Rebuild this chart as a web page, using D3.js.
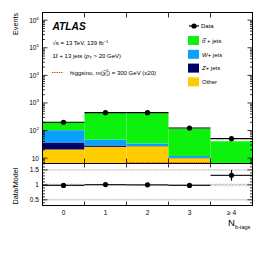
<!DOCTYPE html>
<html>
<head>
<meta charset="utf-8">
<script src="https://cdn.jsdelivr.net/npm/d3@7"></script>
<style>
  body { margin: 0; background: #fff; }
  svg { display: block; font-family: "Liberation Sans", Arial, sans-serif; }
</style>
</head>
<body>
<div id="chart"></div>
<script>
// Chart values

const bins = ["0", "1", "2", "3", "\u2265 4"];
const dataCounts = [200, 445, 445, 124, 51];
const ttbar = [102, 385, 398, 106, 38.5];
const wjets = [66, 18.3, 6.5, 1.8, 0.5];
const zjets = [16.4, 3.1, 0.5, 0.2, 0.05];
const other = [20.6, 25.6, 27, 10, 2];
const signal = [2, 4, 6.8, 6.8, 3];
const ratio = [0.98, 1.01, 1.0, 0.98, 1.32];
const ratioErr = [0.02, 0.02, 0.02, 0.04, 0.18];
const bandErr = [0.05, 0.03, 0.03, 0.03, 0.05];
const yTicks = [10, 1e2, 1e3, 1e4, 1e5, 1e6];
const ratioTicks = [0.5, 1, 1.5];

const legendItems = [
  { key: "ttbar", color: "#0df20d" },
  { key: "wjets", color: "#0aa0ff" },
  { key: "zjets", color: "#000066" },
  { key: "other", color: "#ffcc00" }
];

// Dimensions

const W = 266, H = 253;
const left = 42.5, right = 252.5;
const mainTop = 12.5, mainBottom = 163.5, ratioBottom = 205.5;

const svg = d3.select("#chart").append("svg")
    .attr("width", W)
    .attr("height", H);

const x = d3.scaleBand().domain(bins).range([left, right]).padding(0);
const y = d3.scaleLog().domain([6.4, 1.9e6]).range([mainBottom, mainTop]);
const yr = d3.scaleLinear().domain([0.31, 1.715]).range([ratioBottom, mainBottom]);

// clip for main panel
svg.append("clipPath").attr("id", "clipMain")
  .append("rect").attr("x", left).attr("y", mainTop)
  .attr("width", right - left).attr("height", mainBottom - mainTop);

// Stack the MC
const series = [other, zjets, wjets, ttbar];
const stackColors = ["#ffcc00", "#000066", "#0aa0ff", "#0df20d"];
const stacked = bins.map((b, i) => {
  let acc = 0;
  return series.map((s, k) => {
    const y0 = acc; acc += s[i];
    return { bin: b, y0: y0, y1: acc, color: stackColors[k] };
  });
}).flat();

svg.append("g").attr("clip-path", "url(#clipMain)")
  .selectAll("rect")
  .data(stacked)
  .join("rect")
    .attr("x", d => x(d.bin))
    .attr("width", x.bandwidth())
    .attr("y", d => y(d.y1))
    .attr("height", d => d.y0 > 0 ? y(Math.max(d.y0, 1e-3)) - y(d.y1) : mainBottom + 5 - y(d.y1))
    .attr("fill", d => d.color);

// Signal dotted histogram
const sigPts = [];
bins.forEach((b, i) => {
  sigPts.push([x(b), y(signal[i])]);
  sigPts.push([x(b) + x.bandwidth(), y(signal[i])]);
});
svg.append("path")
  .attr("clip-path", "url(#clipMain)")
  .attr("d", d3.line()(sigPts))
  .attr("fill", "none")
  .attr("stroke", "#ff2200")
  .attr("stroke-width", 1.2)
  .attr("stroke-dasharray", "1.3,1");

// Data points (main)
const dataG = svg.append("g");
bins.forEach((b, i) => {
  const cx = x(b) + x.bandwidth() / 2;
  const v = dataCounts[i], e = Math.sqrt(v);
  dataG.append("line")
    .attr("x1", x(b)).attr("x2", x(b) + x.bandwidth())
    .attr("y1", y(v)).attr("y2", y(v))
    .attr("stroke", "#000").attr("stroke-width", 1.2);
  dataG.append("line")
    .attr("x1", cx).attr("x2", cx)
    .attr("y1", y(v + e)).attr("y2", y(v - e))
    .attr("stroke", "#000").attr("stroke-width", 1.2);
  dataG.append("circle").attr("cx", cx).attr("cy", y(v)).attr("r", 2.6).attr("fill", "#000");
});

// Ratio panel: hatched band, reference lines, points
const defs = svg.append("defs");
const pat = defs.append("pattern").attr("id", "hatch")
  .attr("patternUnits", "userSpaceOnUse").attr("width", 2.5).attr("height", 2.5)
  .attr("patternTransform", "rotate(45)");
pat.append("line").attr("x1", 0).attr("y1", 0).attr("x2", 0).attr("y2", 2.5)
  .attr("stroke", "#aaa").attr("stroke-width", 1);

svg.append("g").selectAll("rect")
  .data(bins)
  .join("rect")
    .attr("x", d => x(d))
    .attr("width", x.bandwidth())
    .attr("y", (d, i) => yr(1 + bandErr[i]))
    .attr("height", (d, i) => yr(1 - bandErr[i]) - yr(1 + bandErr[i]))
    .attr("fill", "url(#hatch)");

svg.append("g").selectAll("line")
  .data(ratioTicks)
  .join("line")
    .attr("x1", left).attr("x2", right)
    .attr("y1", d => yr(d)).attr("y2", d => yr(d))
    .attr("stroke", "#aaa").attr("stroke-width", 1)
    .attr("stroke-dasharray", "2,1");

const ratioG = svg.append("g");
bins.forEach((b, i) => {
  const cx = x(b) + x.bandwidth() / 2;
  const v = ratio[i];
  ratioG.append("line")
    .attr("x1", x(b)).attr("x2", x(b) + x.bandwidth())
    .attr("y1", yr(v)).attr("y2", yr(v))
    .attr("stroke", "#222").attr("stroke-width", 1.2);
  ratioG.append("line")
    .attr("x1", cx).attr("x2", cx)
    .attr("y1", yr(v + ratioErr[i])).attr("y2", yr(v - ratioErr[i]))
    .attr("stroke", "#000").attr("stroke-width", 1.2);
  ratioG.append("circle").attr("cx", cx).attr("cy", yr(v)).attr("r", 2.6).attr("fill", "#000");
});

// Frames
svg.append("rect").attr("x", left).attr("y", mainTop)
  .attr("width", right - left).attr("height", mainBottom - mainTop)
  .attr("fill", "none").attr("stroke", "#000").attr("stroke-width", 1);
svg.append("rect").attr("x", left).attr("y", mainBottom)
  .attr("width", right - left).attr("height", ratioBottom - mainBottom)
  .attr("fill", "none").attr("stroke", "#000").attr("stroke-width", 1);

// Bin edge ticks (top and bottom of both panels)
const edges = bins.slice(1).map(b => x(b));
const tickG = svg.append("g").attr("stroke", "#000").attr("stroke-width", 0.8);
edges.forEach(ex => {
  [[mainTop, 5], [mainBottom, -5], [mainBottom, 4], [ratioBottom, -4]].forEach(([y0, l]) => {
    tickG.append("line").attr("x1", ex).attr("x2", ex).attr("y1", y0).attr("y2", y0 + l);
  });
});

// Log y-axis ticks, left and right
const minor = [];
for (let e = 0; e <= 6; e++) {
  for (let m = 2; m <= 9; m++) {
    const v = m * Math.pow(10, e);
    if (v > y.domain()[0] && v < y.domain()[1]) minor.push(v);
  }
}
yTicks.forEach(v => {
  tickG.append("line").attr("x1", left).attr("x2", left + 5).attr("y1", y(v)).attr("y2", y(v));
  tickG.append("line").attr("x1", right).attr("x2", right - 5).attr("y1", y(v)).attr("y2", y(v));
});
minor.forEach(v => {
  tickG.append("line").attr("x1", left).attr("x2", left + 2.5).attr("y1", y(v)).attr("y2", y(v));
  tickG.append("line").attr("x1", right).attr("x2", right - 2.5).attr("y1", y(v)).attr("y2", y(v));
});
// Ratio y ticks
d3.range(0.4, 1.71, 0.1).forEach(v => {
  const major = ratioTicks.some(t => Math.abs(t - v) < 1e-6);
  const l = major ? 5 : 2.5;
  tickG.append("line").attr("x1", left).attr("x2", left + l).attr("y1", yr(v)).attr("y2", yr(v));
  tickG.append("line").attr("x1", right).attr("x2", right - l).attr("y1", yr(v)).attr("y2", yr(v));
});

// Tick labels
const fs = 6.6;
const yl = svg.append("g").attr("font-size", fs).attr("fill", "#000");
yTicks.forEach(v => {
  const e = Math.round(Math.log10(v));
  const t = yl.append("text").attr("x", 39).attr("y", y(v) + 2.5).attr("text-anchor", "end");
  t.append("tspan").text("10");
  if (e > 1) t.append("tspan").attr("font-size", 4.4).attr("dy", -3).text(e);
});
ratioTicks.forEach(v => {
  yl.append("text").attr("x", 39).attr("y", yr(v) + 2.4).attr("text-anchor", "end").text(v);
});
bins.forEach(b => {
  yl.append("text").attr("x", x(b) + x.bandwidth() / 2).attr("y", 214.5)
    .attr("text-anchor", "middle").text(b);
});

// Axis titles
const xt = svg.append("text").attr("x", 228).attr("y", 226).attr("font-size", 9.5);
xt.append("tspan").text("N");
xt.append("tspan").attr("font-size", 5.6).attr("dy", 2.5).text("b-tags");

svg.append("text")
  .attr("transform", "translate(18,13) rotate(-90)")
  .attr("text-anchor", "end").attr("font-size", 7.2).text("Events");
svg.append("text")
  .attr("transform", "translate(18,186) rotate(-90)")
  .attr("text-anchor", "middle").attr("font-size", 7.2).text("Data/Model");

// Labels in the main panel
svg.append("text").attr("x", 52.5).attr("y", 29.5)
  .attr("font-size", 10.2).attr("font-weight", "bold").attr("font-style", "italic")
  .text("ATLAS");
const l1 = svg.append("text").attr("x", 52.5).attr("y", 45.3).attr("font-size", 6);
l1.append("tspan").text("\u221As = 13 TeV, 139 fb");
l1.append("tspan").attr("font-size", 4).attr("dy", -2.6).text("\u22121");
const l2 = svg.append("text").attr("x", 52.5).attr("y", 57.5).attr("font-size", 6);
l2.append("tspan").text("1\u2113 + 13 jets (");
l2.append("tspan").attr("font-style", "italic").text("p");
l2.append("tspan").attr("font-size", 4.2).attr("dy", 1.3).attr("font-style", "italic").text("T");
l2.append("tspan").attr("dy", -1.3).text(" > 20 GeV)");

svg.append("line").attr("x1", 52).attr("x2", 63).attr("y1", 72.5).attr("y2", 72.5)
  .attr("stroke", "#ff2200").attr("stroke-width", 1.1).attr("stroke-dasharray", "1.3,1");
const l3 = svg.append("text").attr("x", 70).attr("y", 74.8).attr("font-size", 6);
l3.append("tspan").text("higgsino, m(");
l3.append("tspan").attr("font-style", "italic").text("\u03C7\u0303");
l3.append("tspan").attr("font-size", 3.8).attr("dy", 1.5).text("1");
l3.append("tspan").attr("font-size", 3.8).attr("dx", -2.1).attr("dy", -4.5).text("0");
l3.append("tspan").attr("dy", 3).text(") = 300 GeV (x20)");

// Legend
const lg = svg.append("g").attr("font-size", 6);
lg.append("line").attr("x1", 189).attr("x2", 199).attr("y1", 26).attr("y2", 26)
  .attr("stroke", "#000").attr("stroke-width", 1.2);
lg.append("circle").attr("cx", 194).attr("cy", 26).attr("r", 2.6).attr("fill", "#000");
lg.append("text").attr("x", 201).attr("y", 28.2).text("Data");

const legendLabels = {
  ttbar: t => { t.append("tspan").attr("font-style", "italic").text("t\u0305t\u0305".replace(/\u0305/, "")); t.append("tspan").text(" + jets"); },
  wjets: t => { t.append("tspan").attr("font-style", "italic").text("W"); t.append("tspan").text("+ jets"); },
  zjets: t => { t.append("tspan").attr("font-style", "italic").text("Z"); t.append("tspan").text("+ jets"); },
  other: t => { t.text("Other"); }
};
legendItems.forEach((d, i) => {
  const yy = 36 + i * 13.8;
  lg.append("rect").attr("x", 188).attr("y", yy).attr("width", 11).attr("height", 9).attr("fill", d.color);
  const t = lg.append("text").attr("x", 202).attr("y", yy + 6.8);
  legendLabels[d.key](t);
});
</script>
</body>
</html>
